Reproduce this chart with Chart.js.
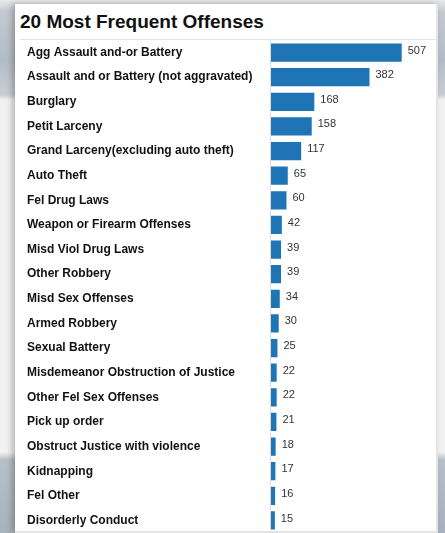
<!DOCTYPE html>
<html>
<head>
<meta charset="utf-8">
<script src="https://cdn.jsdelivr.net/npm/chart.js@4/dist/chart.umd.min.js"></script>
<style>
  html, body { margin: 0; padding: 0; width: 445px; height: 533px; overflow: hidden; }
  body {
    font-family: Arial, "Liberation Sans", sans-serif;
    background: linear-gradient(to bottom, #e9e9e9 0px, #c4c9cf 12px, #b3bcc6 60px, #c9ced3 95px, #f2f2f2 100px, #f2f2f2 452px, #b7bfc8 460px, #a9b2bc 533px);
  }
  #panel {
    position: absolute; left: 15px; top: 4px; width: 421px; height: 527px;
    background: #fff;
    border-right: 2px solid #e4e4e4; border-bottom: 2px solid #e4e4e4;
    box-shadow: -3px 0 6px rgba(0,0,0,0.25);
  }
  #title {
    position: absolute; left: 5px; top: 7px;
    font-size: 19px; font-weight: bold; color: #111;
  }
  #sep {
    position: absolute; left: 5px; top: 35px; width: 416px; height: 0;
    border-top: 1px solid #e2e2e2;
  }
  #wrap { position: absolute; left: 0; top: 29px; width: 421px; height: 507px; }
</style>
</head>
<body>
<div id="panel">
  <div id="title">20 Most Frequent Offenses</div>
  <div id="sep"></div>
  <div id="wrap"><canvas id="chart"></canvas></div>
</div>
<script>
// offense categories and counts
const offenses = [
  'Agg Assault and-or Battery',
  'Assault and or Battery (not aggravated)',
  'Burglary',
  'Petit Larceny',
  'Grand Larceny(excluding auto theft)',
  'Auto Theft',
  'Fel Drug Laws',
  'Weapon or Firearm Offenses',
  'Misd Viol Drug Laws',
  'Other Robbery',
  'Misd Sex Offenses',
  'Armed Robbery',
  'Sexual Battery',
  'Misdemeanor Obstruction of Justice',
  'Other Fel Sex Offenses',
  'Pick up order',
  'Obstruct Justice with violence',
  'Kidnapping',
  'Fel Other',
  'Disorderly Conduct'
];
const counts = [507, 382, 168, 158, 117, 65, 60, 42, 39, 39, 34, 30, 25, 22, 22, 21, 18, 17, 16, 15];

// draw the count to the right of each bar
const valueLabels = {
  id: 'valueLabels',
  afterDatasetsDraw(chart) {
    const ctx = chart.ctx;
    const meta = chart.getDatasetMeta(0);
    ctx.save();
    ctx.font = '11px Arial, "Liberation Sans", sans-serif';
    ctx.fillStyle = '#333';
    ctx.textAlign = 'left';
    ctx.textBaseline = 'middle';
    meta.data.forEach((bar, i) => {
      ctx.fillText(String(counts[i]), bar.x + 6, bar.y - 2);
    });
    ctx.restore();
  }
};

new Chart(document.getElementById('chart'), {
  type: 'bar',
  data: {
    labels: offenses,
    datasets: [{
      data: counts,
      backgroundColor: '#1f74b6',
      barPercentage: 0.74,
      categoryPercentage: 1.0
    }]
  },
  options: {
    indexAxis: 'y',
    responsive: true,
    maintainAspectRatio: false,
    animation: false,
    layout: { padding: { left: 12, right: 0, top: 0, bottom: 0 } },
    plugins: {
      legend: { display: false },
      tooltip: { enabled: false }
    },
    scales: {
      x: {
        display: false,
        min: 0,
        max: 640
      },
      y: {
        grid: { display: false, drawTicks: false },
        border: { display: false },
        ticks: {
          crossAlign: 'far',
          color: '#111',
          padding: 0,
          font: { family: 'Arial, "Liberation Sans", sans-serif', size: 12, weight: 'bold' }
        },
        afterFit(scale) { scale.width = 244; }
      }
    }
  },
  plugins: [valueLabels, {
    // vertical axis rule running from the title separator to the panel bottom
    id: 'axisRule',
    beforeDatasetsDraw(chart) {
      const ctx = chart.ctx;
      const x = Math.round(chart.chartArea.left) - 0.5;
      ctx.save();
      ctx.strokeStyle = '#dcdcdc';
      ctx.lineWidth = 1;
      ctx.beginPath();
      ctx.moveTo(x, 7);
      ctx.lineTo(x, 498);
      ctx.stroke();
      ctx.restore();
    }
  }]
});
</script>
</body>
</html>
